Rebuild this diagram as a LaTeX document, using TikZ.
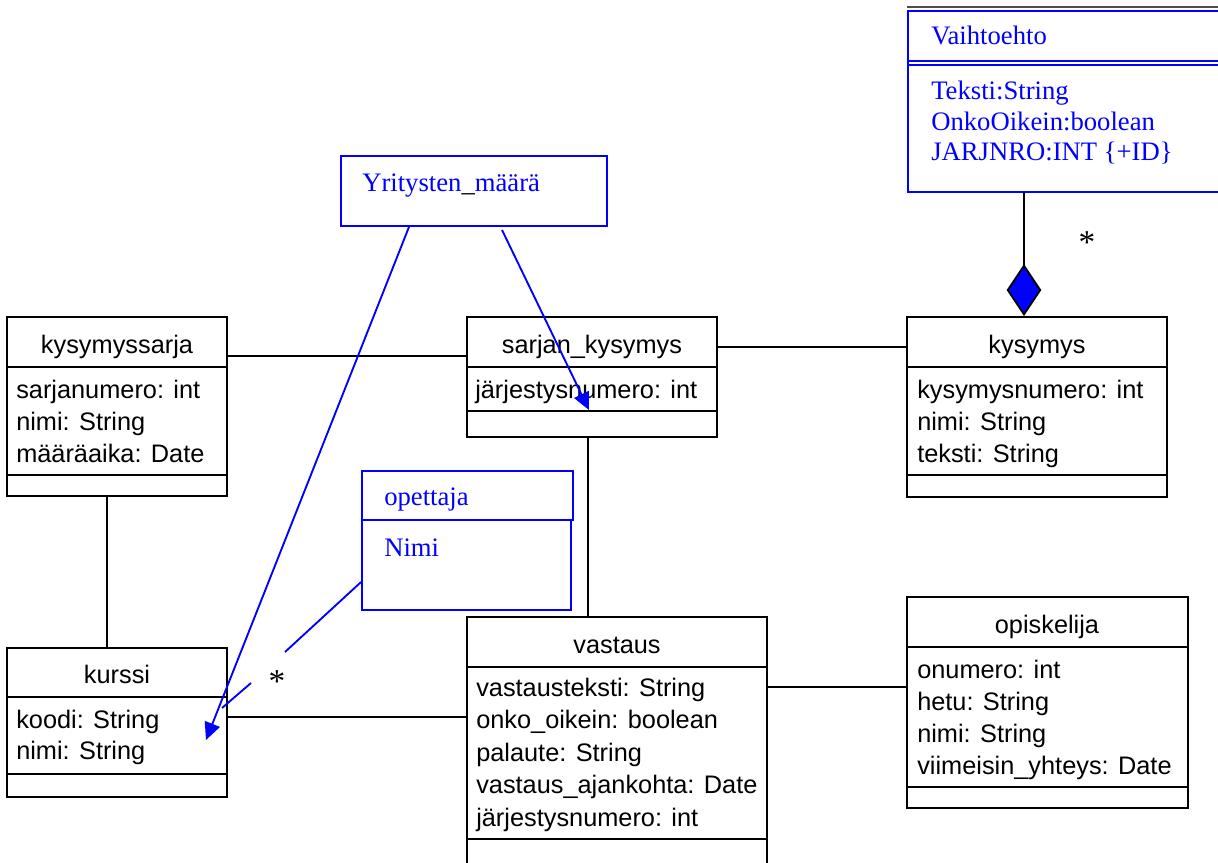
\documentclass[tikz,border=0pt]{standalone}
\usepackage{fontspec}
\setmainfont{Liberation Serif}
\setsansfont{Liberation Sans}
\usetikzlibrary{arrows.meta,fit,calc}
\definecolor{umlblue}{RGB}{0,0,255}
\begin{document}
\begin{tikzpicture}[x=0.75pt,y=-0.75pt,
  cls/.style={draw=black, line width=1.4pt, inner sep=0pt},
  bcls/.style={draw=umlblue, line width=1.4pt, inner sep=0pt},
  sepl/.style={draw=black, line width=1.4pt},
  bsepl/.style={draw=umlblue, line width=1.4pt},
  conn/.style={draw=black, line width=1.4pt},
  bconn/.style={draw=umlblue, line width=1.4pt},
  barrow/.style={bconn, -{Triangle[length=13pt,width=12pt,fill=umlblue]}},
  ttl/.style={anchor=base, inner sep=0pt, font=\sffamily\fontsize{19}{24}\selectfont},
  attr/.style={anchor=base west, inner sep=0pt, font=\sffamily\fontsize{19}{24}\selectfont},
  btxt/.style={anchor=base west, inner sep=0pt, text=umlblue, font=\rmfamily\fontsize{20}{24}\selectfont},
  mult/.style={anchor=base, inner sep=0pt, font=\rmfamily\fontsize{25}{24}\selectfont}
]
\useasboundingbox (0,0) rectangle (1218,863);
\clip (0,0) rectangle (1218,863);
\fill[white] (0,0) rectangle (1218,863);

% ---------- black classes ----------
\node[cls, fit={(7,317)(227,496)}] (kysymyssarja) {};
\draw[sepl] (kysymyssarja.west |- 0,367) -- (kysymyssarja.east |- 0,367);
\draw[sepl] (kysymyssarja.west |- 0,475) -- (kysymyssarja.east |- 0,475);
\node[ttl] (t1) at (117,353) {kysymyssarja};
\node[attr] (a11) at (16,398) {sarjanumero: int};
\node[attr] (a12) at (16,430) {nimi: String};
\node[attr] (a13) at (16,462) {määräaika: Date};

\node[cls, fit={(467,317)(717,437)}] (sarjan) {};
\draw[sepl] (sarjan.west |- 0,367) -- (sarjan.east |- 0,367);
\draw[sepl] (sarjan.west |- 0,411) -- (sarjan.east |- 0,411);
\node[ttl] (t2) at (592,353) {sarjan\_kysymys};
\node[attr] (a21) at (475,398) {järjestysnumero: int};

\node[cls, fit={(907,317)(1167,497)}] (kysymys) {};
\draw[sepl] (kysymys.west |- 0,367) -- (kysymys.east |- 0,367);
\draw[sepl] (kysymys.west |- 0,475) -- (kysymys.east |- 0,475);
\node[ttl] (t3) at (1037,353) {kysymys};
\node[attr] (a31) at (917,398) {kysymysnumero: int};
\node[attr] (a32) at (917,430) {nimi: String};
\node[attr] (a33) at (917,462) {teksti: String};

\node[cls, fit={(7,648)(227,797)}] (kurssi) {};
\draw[sepl] (kurssi.west |- 0,697) -- (kurssi.east |- 0,697);
\draw[sepl] (kurssi.west |- 0,774) -- (kurssi.east |- 0,774);
\node[ttl] (t4) at (117,683) {kurssi};
\node[attr] (a41) at (16,728) {koodi: String};
\node[attr] (a42) at (16,759) {nimi: String};

\node[cls, fit={(467,617)(767,880)}] (vastaus) {};
\draw[sepl] (vastaus.west |- 0,667) -- (vastaus.east |- 0,667);
\draw[sepl] (vastaus.west |- 0,839) -- (vastaus.east |- 0,839);
\node[ttl] (t5) at (617,653) {vastaus};
\node[attr] (a51) at (476,696) {vastausteksti: String};
\node[attr] (a52) at (476,728.5) {onko\_oikein: boolean};
\node[attr] (a53) at (476,761) {palaute: String};
\node[attr] (a54) at (476,793.5) {vastaus\_ajankohta: Date};
\node[attr] (a55) at (476,826) {järjestysnumero: int};

\node[cls, fit={(907,597)(1188,808)}] (opiskelija) {};
\draw[sepl] (opiskelija.west |- 0,647) -- (opiskelija.east |- 0,647);
\draw[sepl] (opiskelija.west |- 0,787) -- (opiskelija.east |- 0,787);
\node[ttl] (t6) at (1047,633) {opiskelija};
\node[attr] (a61) at (917,678) {onumero: int};
\node[attr] (a62) at (917,710) {hetu: String};
\node[attr] (a63) at (917,742) {nimi: String};
\node[attr] (a64) at (917,774) {viimeisin\_yhteys: Date};

% ---------- blue classes ----------
\node[bcls, fit={(908,11)(1240,192)}] (vaih) {};
\draw[draw=black!70, line width=1pt] (vaih.north west |- 0,7) -- (vaih.north east |- 0,7);
\draw[bsepl] (vaih.west |- 0,61) -- (vaih.east |- 0,61);
\draw[bsepl] (vaih.west |- 0,65) -- (vaih.east |- 0,65);
\node[btxt] (v0) at (931,45) {Vaihtoehto};
\node[btxt] (v1) at (931,100) {Teksti:String};
\node[btxt] (v2) at (931,130.5) {OnkoOikein:boolean};
\node[btxt] (v3) at (931,161) {JARJNRO:INT \{+ID\}};

\node[bcls, fit={(341,156)(607,226)}] (yr) {};
\node[btxt] (yrt) at (362,192) {Yritysten{\color{black}\_}määrä};

\node[bcls, fit={(362,471)(573,520)}] (opettaja) {};
\node[bcls, fit={(362,520)(571,610)}] (opbody) {};
\node[btxt] (opt) at (384,505) {opettaja};
\node[btxt] (opn) at (384,556) {Nimi};

% ---------- black connectors ----------
\draw[conn] (kysymyssarja.east |- 0,356) -- (sarjan.west |- 0,356);
\draw[conn] (sarjan.east |- 0,347) -- (kysymys.west |- 0,347);
\draw[conn] (kysymyssarja.south -| 107,0) -- (kurssi.north -| 107,0);
\draw[conn] (kurssi.east |- 0,717) -- (vastaus.west |- 0,717);
\draw[conn] (sarjan.south -| 588,0) -- (vastaus.north -| 588,0);
\draw[conn] (vastaus.east |- 0,687) -- (opiskelija.west |- 0,687);
\draw[conn, {Diamond[length=39pt,width=26pt,fill=umlblue]}-] (kysymys.north -| 1024,0) -- (vaih.south -| 1024,0);
\node[mult] (m1) at (1087,253) {*};

% ---------- blue connectors ----------
\coordinate (kurssitip) at (206,740);
\coordinate (sarjantip) at (589,410);
\draw[barrow] (yr.south -| 409,0) -- (kurssitip);
\draw[barrow] ($(yr.south -| 502,0)+(0,3)$) -- (sarjantip);
\coordinate (opA) at (285,652);
\coordinate (opB) at (251,683);
\coordinate (opC) at (222,708);
\draw[bconn] (opbody.west |- 0,582) -- (opA);
\draw[bconn] (opB) -- (opC);
\node[mult] (m2) at (277,692) {*};
\end{tikzpicture}
\end{document}
